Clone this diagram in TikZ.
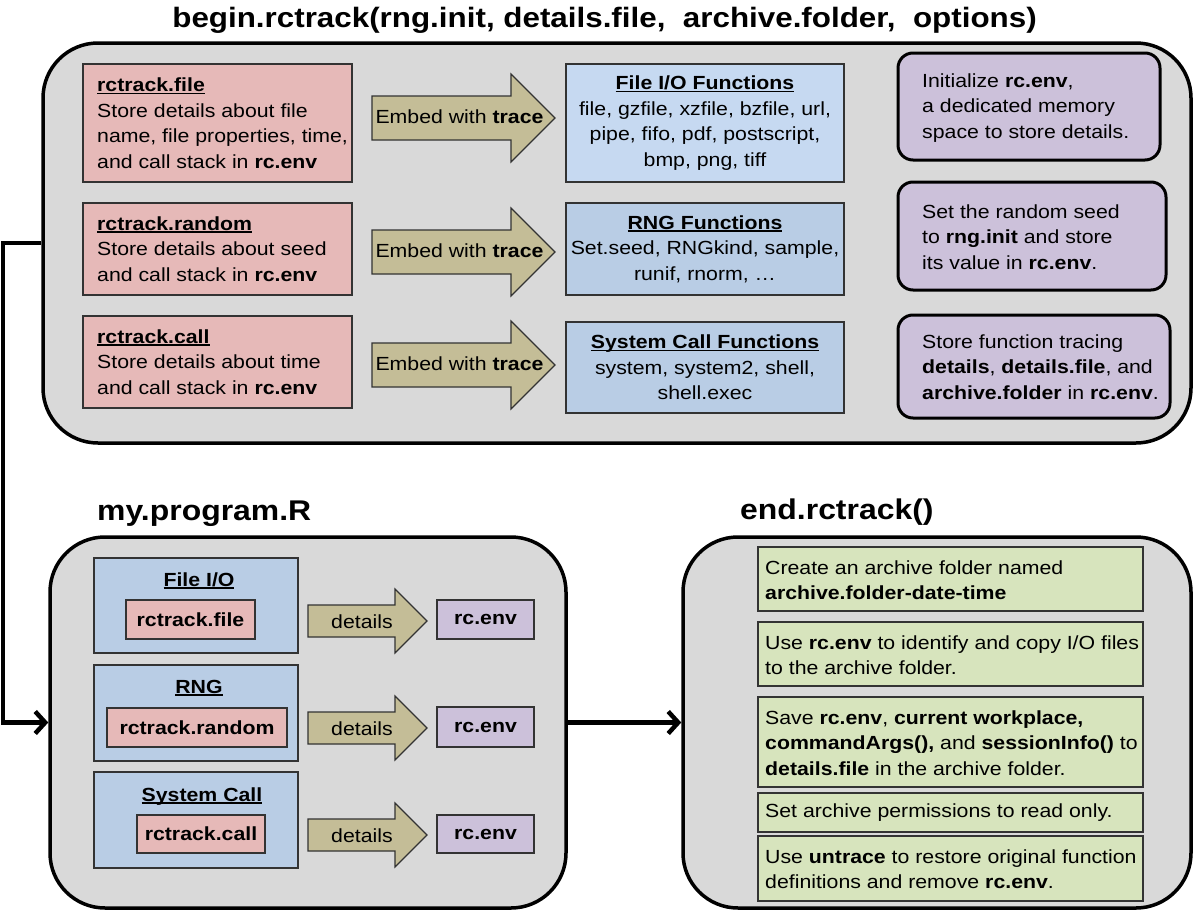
\documentclass[tikz,border=0pt]{standalone}
\usepackage{fontspec}
\setmainfont{Liberation Sans}[FakeStretch=1.12]
\usetikzlibrary{arrows.meta}
\definecolor{panelgray}{HTML}{D9D9D9}
\definecolor{redfill}{HTML}{E6B9B8}
\definecolor{bluelight}{HTML}{C6D9F1}
\definecolor{bluefill}{HTML}{B9CDE5}
\definecolor{purplefill}{HTML}{CCC1DA}
\definecolor{olivefill}{HTML}{C4BD97}
\definecolor{greenfill}{HTML}{D7E4BD}
\definecolor{boxline}{HTML}{333333}
\newcommand{\myul}[1]{\setbox0\hbox{#1}\rlap{\rule[-2.6pt]{\wd0}{1.4pt}}\box0}
\newcommand{\fatarrow}[5]{\path[arrowshape] (#1,#3-#4) -- (#2-#5,#3-#4) -- (#2-#5,#3-#5) -- (#2,#3) -- (#2-#5,#3+#5) -- (#2-#5,#3+#4) -- (#1,#3+#4) -- cycle;}
\begin{document}
\begin{tikzpicture}[x=1pt,y=-1pt,
  panel/.style={draw=black, line width=3.5pt, fill=panelgray, rounded corners=55pt, inner sep=0pt},
  thinbox/.style={draw=boxline, line width=1.2pt, inner sep=0pt},
  redbox/.style={thinbox, fill=redfill},
  bluebox/.style={thinbox, fill=bluefill},
  bluelbox/.style={thinbox, fill=bluelight},
  purplebox/.style={thinbox, fill=purplefill},
  greenbox/.style={thinbox, fill=greenfill},
  roundpurple/.style={draw=black, line width=3pt, fill=purplefill, rounded corners=15pt, inner sep=0pt},
  arrowshape/.style={draw=boxline, line width=1.2pt, fill=olivefill, line join=miter},
  txt/.style={font=\fontsize{19}{25.5}\selectfont, inner sep=0pt, align=left},
  txtc/.style={font=\fontsize{19}{25.5}\selectfont, inner sep=0pt, align=center},
  titletxt/.style={font=\fontsize{28.5}{32}\selectfont\bfseries, inner sep=0pt},
  conn/.style={line width=4.5pt, -{Straight Barb[length=10pt,width=22pt]}}
]
\fill[white] (0,0) rectangle (1200,913);
\useasboundingbox (0,0) rectangle (1200,913);

% ---------- titles ----------
\node[titletxt, font=\fontsize{28}{32}\selectfont\bfseries, anchor=base] (t1) at (604.5,27) {begin.rctrack(rng.init, details.file,\ \ archive.folder,\ \ options)};
\node[titletxt, anchor=base west] (t2) at (97,520) {my.program.R};
\node[titletxt, anchor=base west] (t3) at (740,519) {end.rctrack()};

% ---------- panels ----------
\node[panel, minimum width=1148pt, minimum height=400pt] (top) at (617,243) {};
\node[panel, minimum width=516pt, minimum height=371pt] (prog) at (308,722.5) {};
\node[panel, minimum width=508pt, minimum height=371pt] (endp) at (937,722.5) {};

% ---------- top panel: red boxes ----------
\node[redbox, minimum width=269pt, minimum height=118pt] (r1) at (217.5,123) {};
\node[txt, anchor=west] (r1t) at (97,123) {\myul{\textbf{rctrack.file}}\\Store details about file\\name, file properties, time,\\and call stack in \textbf{rc.env}};
\node[redbox, minimum width=269pt, minimum height=92pt] (r2) at (217.5,249) {};
\node[txt, anchor=west] (r2t) at (97,249) {\myul{\textbf{rctrack.random}}\\Store details about seed\\and call stack in \textbf{rc.env}};
\node[redbox, minimum width=269pt, minimum height=92pt] (r3) at (217.5,362) {};
\node[txt, anchor=west] (r3t) at (97,362) {\myul{\textbf{rctrack.call}}\\Store details about time\\and call stack in \textbf{rc.env}};

% ---------- top panel: fat arrows ----------
\fatarrow{372}{555}{118}{22}{44}
\node[txt] (a1t) at (459.5,117) {Embed with \textbf{trace}};
\fatarrow{372}{555}{252}{22}{44}
\node[txt] (a2t) at (459.5,251) {Embed with \textbf{trace}};
\fatarrow{372}{555}{365}{22}{44}
\node[txt] (a3t) at (459.5,364) {Embed with \textbf{trace}};

% ---------- top panel: blue boxes ----------
\node[bluelbox, minimum width=278pt, minimum height=118pt] (b1) at (705,123) {};
\node[txtc] (b1t) at (705,123) {\myul{\textbf{File I/O Functions}}\\file, gzfile, xzfile, bzfile, url,\\pipe, fifo, pdf, postscript,\\bmp, png, tiff};
\node[bluebox, minimum width=278pt, minimum height=92pt] (b2) at (705,249) {};
\node[txtc] (b2t) at (705,249) {\myul{\textbf{RNG Functions}}\\Set.seed, RNGkind, sample,\\runif, rnorm, …};
\node[bluebox, minimum width=278pt, minimum height=91pt] (b3) at (705,367.5) {};
\node[txtc] (b3t) at (705,367.5) {\myul{\textbf{System Call Functions}}\\system, system2, shell,\\shell.exec};

% ---------- top panel: purple rounded boxes ----------
\node[roundpurple, minimum width=262pt, minimum height=107pt] (p1) at (1029,106.5) {};
\node[txt, anchor=west] (p1t) at (922,108) {Initialize \textbf{rc.env},\\a dedicated memory\\space to store details.};
\node[roundpurple, minimum width=268pt, minimum height=108pt] (p2) at (1032,236) {};
\node[txt, anchor=west] (p2t) at (922,237) {Set the random seed\\to \textbf{rng.init} and store\\its value in \textbf{rc.env}.};
\node[roundpurple, minimum width=272pt, minimum height=103pt] (p3) at (1034,366.5) {};
\node[txt, anchor=west] (p3t) at (922,367) {Store function tracing\\\textbf{details}, \textbf{details.file}, and\\\textbf{archive.folder} in \textbf{rc.env}.};

% ---------- my.program.R ----------
\node[bluebox, minimum width=204pt, minimum height=95pt] (pb1) at (196,605.5) {};
\node[txtc, anchor=base] (pb1h) at (199,586) {\myul{\textbf{File I/O}}};
\node[redbox, minimum width=129pt, minimum height=39pt, font=\fontsize{19}{25.5}\selectfont\bfseries] (pr1) at (190.5,619.5) {rctrack.file};
\node[bluebox, minimum width=204pt, minimum height=96pt] (pb2) at (196,713) {};
\node[txtc, anchor=base] (pb2h) at (199,693) {\myul{\textbf{RNG}}};
\node[redbox, minimum width=180pt, minimum height=39pt, font=\fontsize{19}{25.5}\selectfont\bfseries] (pr2) at (197,727.5) {rctrack.random};
\node[bluebox, minimum width=204pt, minimum height=96pt] (pb3) at (196,820) {};
\node[txtc, anchor=base] (pb3h) at (202,801) {\myul{\textbf{System Call}}};
\node[redbox, minimum width=128pt, minimum height=38pt, font=\fontsize{19}{25.5}\selectfont\bfseries] (pr3) at (201,834) {rctrack.call};

\fatarrow{308}{427}{621}{16}{32}
\node[txt] (d1t) at (362,622) {details};
\fatarrow{308}{427}{728}{16}{32}
\node[txt] (d2t) at (362,729) {details};
\fatarrow{308}{427}{835}{16}{32}
\node[txt] (d3t) at (362,836) {details};

\node[purplebox, minimum width=97pt, minimum height=39pt, font=\fontsize{19}{25.5}\selectfont\bfseries] (e1) at (485.5,619.5) {rc.env};
\node[purplebox, minimum width=97pt, minimum height=40pt, font=\fontsize{19}{25.5}\selectfont\bfseries] (e2) at (485.5,727) {rc.env};
\node[purplebox, minimum width=97pt, minimum height=38pt, font=\fontsize{19}{25.5}\selectfont\bfseries] (e3) at (485.5,834) {rc.env};

% ---------- end.rctrack() ----------
\node[greenbox, minimum width=385pt, minimum height=64pt] (g1) at (950.5,579) {};
\node[txt, anchor=west] (g1t) at (765,580) {Create an archive folder named\\\textbf{archive.folder-date-time}};
\node[greenbox, minimum width=385pt, minimum height=64pt] (g2) at (950.5,654) {};
\node[txt, anchor=west] (g2t) at (765,655) {Use \textbf{rc.env} to identify and copy I/O files\\to the archive folder.};
\node[greenbox, minimum width=385pt, minimum height=90pt] (g3) at (950.5,742) {};
\node[txt, anchor=west] (g3t) at (765,743) {Save \textbf{rc.env}, \textbf{current workplace,}\\\textbf{commandArgs(),} and \textbf{sessionInfo()} to\\\textbf{details.file} in the archive folder.};
\node[greenbox, minimum width=385pt, minimum height=39pt] (g4) at (950.5,812.5) {};
\node[txt, anchor=west] (g4t) at (765,813) {Set archive permissions to read only.};
\node[greenbox, minimum width=385pt, minimum height=65pt] (g5) at (950.5,868.5) {};
\node[txt, anchor=west] (g5t) at (765,869) {Use \textbf{untrace} to restore original function\\definitions and remove \textbf{rc.env}.};

% ---------- connectors ----------
\coordinate (c1) at (3,480);
\draw[conn] (top.west) -| (c1) |- (prog.west);
\draw[conn] (prog.east) -- (endp.west);
\end{tikzpicture}
\end{document}
